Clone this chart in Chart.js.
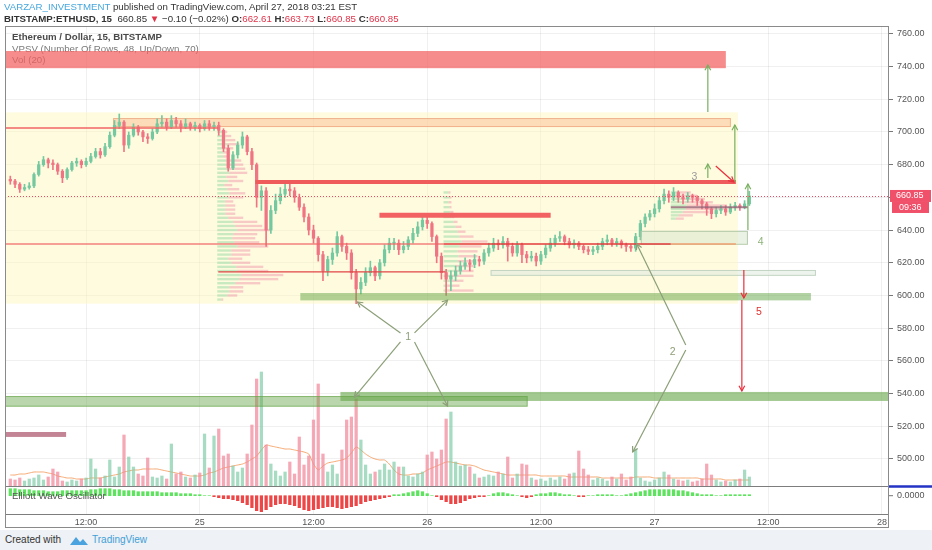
<!DOCTYPE html>
<html>
<head>
<meta charset="utf-8">
<script src="https://cdn.jsdelivr.net/npm/chart.js@4.4.1/dist/chart.umd.min.js"></script>
<style>
  body { margin:0; width:932px; height:550px; overflow:hidden; position:relative; background:#fff;
         font-family:"Liberation Sans", Arial, sans-serif; }
  .hdr { position:absolute; left:4px; white-space:nowrap; font-size:9.7px; color:#333; z-index:3; }
  .red { color:#e0344a; }
  #footer { position:absolute; left:0; top:530px; width:932px; height:20px; background:#eef1f5; z-index:0; }
  #footer span { position:absolute; top:4px; font-size:10px; }
  #wrap { position:absolute; left:0; top:0; width:932px; height:550px; z-index:1; }
</style>
</head>
<body>
<div class="hdr" style="top:1px"><span style="color:#46a6dc">VARZAR_INVESTMENT</span> published on TradingView.com, April 27, 2018 03:21 EST</div>
<div class="hdr" style="top:13px"><b>BITSTAMP:ETHUSD, 15</b>&nbsp; 660.85 <span class="red">&#9660;</span> &minus;0.10 (&minus;0.02%) <b>O:</b><span class="red">662.61</span> <b>H:</b><span class="red">663.73</span> <b>L:</b><span class="red">660.85</span> <b>C:</b><span class="red">660.85</span></div>
<div id="footer">
  <span style="left:5px;color:#333">Created with</span>
  <svg style="position:absolute;left:69px;top:4px" width="20" height="12" viewBox="0 0 20 12">
    <path d="M1 11 L7 3 L11 8 L14 5 L19 11 Z" fill="#4aa3df"/>
  </svg>
  <span style="left:92px;color:#3ea0d8">TradingView</span>
</div>
<div id="wrap"><canvas id="chart"></canvas></div>

<script>
// ETHUSD, 30-minute candles, first candle Apr 24 04:00
const startHour = 4;
const stepHour = 0.5;
const firstOpen = 671;

const closes = [
  670,668,665,666,667,674,680,683,681,680,
  676,672,677,681,682,680,682,685,688,686,
  691,698,704,706,692,698,703,700,697,696,
  700,705,706,703,707,705,703,705,703,704,
  702,705,703,704,701,690,678,686,692,697,
  688,680,660,664,640,652,658,662,665,664,
  660,654,648,640,635,625,615,622,626,636,
  630,626,614,604,608,614,617,612,620,628,
  632,632,628,630,634,638,642,646,644,636,
  624,614,610,612,615,618,620,619,622,621,
  626,629,632,631,633,630,626,631,625,623,
  624,621,625,629,632,635,636,633,631,632,
  630,628,627,628,630,633,634,632,633,631,
  630,629,636,644,648,650,653,658,662,660,
  663,660,659,661,660,658,656,653,650,652,
  653,651,654,655,654,656,660.85
];
const highs = [
  673,671,669,668,669,675,682,685,684,683,
  681,677,678,682,684,683,684,687,690,690,
  693,700,707,711,707,700,705,704,701,699,
  702,708,710,708,710,709,707,708,706,706,
  705,707,707,706,706,702,692,688,694,700,
  698,690,681,667,666,655,662,666,669,668,
  666,662,656,650,643,636,627,624,629,639,
  637,632,628,616,611,617,621,618,622,631,
  635,635,634,633,636,641,645,649,648,645,
  637,626,616,615,618,621,623,622,625,624,
  628,632,635,634,636,635,632,633,632,627,
  627,626,627,631,635,637,639,637,635,634,
  633,631,630,630,632,635,637,635,635,634,
  632,631,638,646,650,652,656,660,665,664,
  666,664,662,663,662,661,659,657,654,654,
  655,655,656,657,656,658,663.73
];
const lows = [
  668,666,663,664,665,666,673,679,678,677,
  674,669,671,676,679,678,679,681,684,684,
  685,690,697,702,688,690,697,698,694,693,
  695,699,703,701,702,703,700,702,701,701,
  700,701,701,701,698,688,676,677,684,690,
  686,677,654,652,630,638,650,656,660,661,
  657,652,645,637,632,621,609,612,619,624,
  627,622,610,595,601,606,612,609,610,618,
  626,628,625,626,628,632,636,640,641,633,
  620,610,600,603,609,613,616,615,617,618,
  619,624,627,628,629,621,624,624,620,620,
  621,618,619,623,627,630,633,631,629,629,
  628,626,625,625,626,628,631,630,630,629,
  627,627,627,634,642,646,648,651,656,657,
  658,657,656,657,657,655,653,649,647,648,
  650,649,650,652,652,653,655
];
const volumes = [
  7,6,8,5,7,8,11,6,9,17,
  14,5,4,6,5,7,8,27,17,8,
  10,26,9,19,51,29,19,12,10,28,
  9,8,10,7,42,12,14,9,8,11,
  13,52,18,50,57,30,32,20,14,18,
  32,61,107,114,41,22,15,10,14,24,
  12,49,21,30,66,102,32,14,21,12,
  36,66,69,87,46,21,12,14,16,22,
  16,24,19,19,10,9,12,14,31,34,
  27,36,67,74,24,20,21,19,12,8,
  9,11,10,14,12,29,8,12,22,21,
  8,6,7,5,8,6,9,7,12,13,
  35,17,11,6,8,7,5,9,7,12,
  6,9,37,8,5,4,6,8,14,11,
  7,6,5,6,4,5,7,22,11,6,
  4,5,4,6,7,16,9
];
const volumeMA = [
  11,11,12,12,13,14,14,14,13,12,
  10,9,8,8,7,7,7,8,8,8,
  9,10,11,12,14,15,16,16,17,17,
  17,17,16,15,14,13,12,11,10,10,
  10,11,13,14,16,18,19,20,21,22,
  24,27,30,36,41,40,39,38,37,37,
  36,35,34,32,22,16,20,23,24,25,
  26,28,33,39,36,32,29,27,26,26,
  22,16,12,11,11,12,12,13,16,18,
  20,22,24,24,23,22,21,21,20,18,
  16,15,14,13,12,11,11,11,11,11,
  11,11,10,10,10,10,10,10,9,9,
  9,9,9,9,9,8,8,8,8,8,
  8,8,9,9,9,9,8,8,8,8,
  8,8,8,8,8,8,7,7,7,7,
  7,6,6,6,6,6,6
];
const oscillator = [
  7,7,6,6,6,5,5,5,4,4,
  4,5,5,5,5,5,5,6,6,7,
  7,7,6,6,5,5,5,4,4,4,
  4,4,3,3,3,3,2,2,2,1,
  1,0,0,-1,-2,-3,-3,-4,-5,-7,
  -9,-12,-15,-16,-14,-11,-9,-8,-8,-9,
  -10,-12,-14,-15,-14,-13,-12,-11,-11,-12,
  -13,-12,-11,-10,-8,-6,-5,-4,-3,-2,
  -1,1,1,2,3,4,5,4,2,0,
  -1,-4,-6,-8,-8,-7,-5,-3,-2,-1,
  -1,0,2,3,3,2,1,0,-1,-2,
  -1,1,2,2,3,3,2,1,1,0,
  -1,-1,0,0,1,1,1,1,0,0,
  1,2,3,4,5,6,6,6,6,6,
  6,5,5,4,3,2,1,1,1,0,
  0,1,1,1,1,1,1
];

// volume profiles (VPSV): anchor hour, row prices, up / down volume
const vp1Anchor = 25.84;
const vp1Price = [700,697.5,695,692.5,690,687.5,685,682.5,680,677.5,675,672.5,670,667.5,665,662.5,660,657.5,655,652.5,650,647.5,645,642.5,640,637.5,635,632.5,630,627.5,625,622.5,620,617.5,615,612.5,610,607.5,605,602.5,600,597.5];
const vp1Up    = [6,8,9,10,8,6,6,10,11,12,12,9,11,7,10,12,11,8,8,8,8,11,16,18,20,16,15,17,20,14,14,11,14,19,20,24,22,18,12,12,10,4];
const vp1Down  = [4,6,9,12,8,6,6,14,15,16,18,11,15,8,12,16,15,8,10,10,10,15,24,27,33,24,23,25,31,19,19,14,19,27,31,42,39,25,14,14,10,2];
const vp2Anchor = 49.72;
const vp2Price = [663,660,657,654,651,648,645,642,639,636,633,630,627,624,621,618,615,612,609,606,603];
const vp2Up    = [5,6,5,6,7,8,10,12,14,16,18,16,14,15,14,12,10,8,6,4,4];
const vp2Down  = [2,2,3,2,3,3,4,6,8,14,26,22,20,19,16,18,20,22,14,12,26];
const vp3Anchor = 73.71;
const vp3Price = [663,661,659,657,655,653,651,649,647];
const vp3Up    = [8,10,12,14,16,15,12,8,5];
const vp3Down  = [12,16,22,28,40,38,26,14,8];

const hourTicks = [12,24,36,48,60,72,84,96];
const priceTicks = [500,520,540,560,580,600,620,640,660,680,700,720,740,760];
const lastPrice = 660.85;
const countdown = '09:36';

// drawings on the chart, in hours / price
const zones = [
  { layer:'back',  t0:3.44,  t1:80.79, p0:595,   p1:712,   fill:'rgba(255,247,185,0.45)' },
  { layer:'back',  t0:14.85, t1:80.05, p0:703,   p1:708.5, fill:'rgba(250,185,140,0.45)', stroke:'rgba(235,160,120,0.7)' },
  { layer:'front', t0:3.44,  t1:79.52, p0:739,   p1:749.5, fill:'rgba(242,95,95,0.72)' },
  { layer:'front', t0:34.61, t1:88.50, p0:597,   p1:601.5, fill:'rgba(100,165,70,0.5)' },
  { layer:'front', t0:38.84, t1:96.74, p0:535.5, p1:541,   fill:'rgba(100,165,70,0.6)' },
  { layer:'front', t0:3.44,  t1:58.60, p0:532,   p1:538.5, fill:'rgba(100,165,70,0.45)', stroke:'rgba(100,165,70,0.6)' },
  { layer:'front', t0:70.54, t1:81.85, p0:631,   p1:639.5, fill:'rgba(215,232,205,0.55)', stroke:'rgba(170,195,160,0.8)' },
  { layer:'front', t0:54.69, t1:89.03, p0:612,   p1:615.6, fill:'rgba(225,235,225,0.6)', stroke:'rgba(185,205,185,0.8)' },
  { layer:'front', t0:3.44,  t1:9.89,  p0:513.5, p1:516.5, fill:'rgba(185,110,130,0.85)' }
];
const levels = [
  { t0:3.44,  t1:25.95, p:702.4, w:1.5, c:'#f06464' },
  { t0:3.44,  t1:49.72, p:631.5, w:1.5, c:'rgba(240,100,100,0.8)' },
  { t0:49.72, t1:73.71, p:631.5, w:1.5, c:'#e33b3b' },
  { t0:73.71, t1:80.58, p:631.5, w:1.5, c:'#f2a070' },
  { t0:25.95, t1:49.93, p:614.4, w:1.3, c:'#e04646' },
  { t0:29.86, t1:80.58, p:669.4, w:4,   c:'#ef5b5b' },
  { t0:42.96, t1:61.03, p:649,   w:5,   c:'#f26262' },
  { t0:73.71, t1:81.85, p:654,   w:2,   c:'rgba(150,100,120,0.8)' }
];
const arrows = [
  { t0:45.18, p0:577.1, t1:40.63, p1:596.0, c:'#8c9f78' },
  { t0:46.66, p0:577.1, t1:50.15, p1:597.2, c:'#8c9f78' },
  { t0:45.18, p0:571.6, t1:40.32, p1:537.9, c:'#8c9f78' },
  { t0:46.66, p0:571.6, t1:50.15, p1:532.4, c:'#8c9f78' },
  { t0:75.29, p0:569.7, t1:70.12, p1:631.5, c:'#8c9f78' },
  { t0:75.29, p0:566.7, t1:69.69, p1:504.3, c:'#8c9f78' },
  { t0:77.62, p0:712.2, t1:77.62, p1:741,   c:'#78b060' },
  { t0:80.47, p0:669.4, t1:80.47, p1:704.3, c:'#78b060' },
  { t0:77.62, p0:671.9, t1:77.62, p1:680.4, c:'#78b060' },
  { t0:81.85, p0:640,   t1:81.85, p1:668.2, c:'#78b060' },
  { t0:78.46, p0:679.2, t1:80.36, p1:669.4, c:'#e8303c' },
  { t0:81.42, p0:615.6, t1:81.42, p1:598.5, c:'#e8303c' },
  { t0:81.21, p0:597.2, t1:81.21, p1:541.6, c:'#e8303c' }
];
const marks = [
  { t:46.0, p:574.6, text:'1', c:'#8c9f78' },
  { t:73.9, p:565.4, text:'2', c:'#8c9f78' },
  { t:76.2, p:672.5, text:'3', c:'#9a9a9a' },
  { t:83.2, p:632.7, text:'4', c:'#8fb27a' },
  { t:83.0, p:590,   text:'5', c:'#e03030' }
];

const hours = closes.map((c, i) => startHour + i * stepHour);
const opens = closes.map((c, i) => i ? closes[i - 1] : firstOpen);
const isUp = closes.map((c, i) => c >= opens[i]);

const upC = '#74c9a0', downC = '#f07584';
const FONT = '"Liberation Sans", Arial, sans-serif';

function drawProfile(ctx, xs, ys, anchor, prices, ups, downs) {
  const k = 1 / 9.464;
  prices.forEach((p, i) => {
    const y = ys.getPixelForValue(p);
    const x0 = xs.getPixelForValue(anchor);
    const x1 = xs.getPixelForValue(anchor + ups[i] * k);
    const x2 = xs.getPixelForValue(anchor + (ups[i] + downs[i]) * k);
    ctx.fillStyle = 'rgba(120,210,150,0.4)';
    ctx.fillRect(x0, y - 1.2, x1 - x0, 2.4);
    ctx.fillStyle = 'rgba(238,130,160,0.4)';
    ctx.fillRect(x1, y - 1.2, x2 - x1, 2.4);
  });
}

function drawZone(ctx, xs, ys, z) {
  const x0 = xs.getPixelForValue(z.t0), x1 = xs.getPixelForValue(z.t1);
  const y0 = ys.getPixelForValue(z.p1), y1 = ys.getPixelForValue(z.p0);
  ctx.fillStyle = z.fill;
  ctx.fillRect(x0, y0, x1 - x0, y1 - y0);
  if (z.stroke) {
    ctx.strokeStyle = z.stroke; ctx.lineWidth = 1;
    ctx.strokeRect(x0 + 0.5, y0 + 0.5, x1 - x0 - 1, y1 - y0 - 1);
  }
}

const tvDraw = {
  id: 'tvDraw',
  beforeDatasetsDraw(chart) {
    const { ctx, chartArea: a, scales: { x, y } } = chart;
    ctx.save();
    ctx.beginPath(); ctx.rect(a.left, a.top, a.right - a.left, a.bottom - a.top); ctx.clip();
    zones.filter(z => z.layer === 'back').forEach(z => drawZone(ctx, x, y, z));
    drawProfile(ctx, x, y, vp1Anchor, vp1Price, vp1Up, vp1Down);
    drawProfile(ctx, x, y, vp2Anchor, vp2Price, vp2Up, vp2Down);
    drawProfile(ctx, x, y, vp3Anchor, vp3Price, vp3Up, vp3Down);
    ctx.restore();
  },
  afterDatasetsDraw(chart) {
    const { ctx, chartArea: a, scales: { x, y, yv, yo } } = chart;
    ctx.save();
    // legend
    ctx.textBaseline = 'middle'; ctx.textAlign = 'left';
    ctx.font = 'bold 9.7px ' + FONT;
    ctx.fillStyle = '#4a4a4a';
    ctx.fillText('Ethereum / Dollar, 15, BITSTAMP', a.left + 7, a.top + 11);
    ctx.font = '9.7px ' + FONT;
    ctx.fillStyle = '#7a7a7a';
    ctx.fillText('VPSV (Number Of Rows, 48, Up/Down, 70)', a.left + 7, a.top + 23);
    ctx.fillText('Vol (20)', a.left + 7, a.top + 34);

    ctx.save();
    ctx.beginPath(); ctx.rect(a.left, a.top, a.right - a.left, a.bottom - a.top); ctx.clip();
    zones.filter(z => z.layer === 'front').forEach(z => drawZone(ctx, x, y, z));
    levels.forEach(l => {
      ctx.strokeStyle = l.c; ctx.lineWidth = l.w;
      const yy = y.getPixelForValue(l.p);
      ctx.beginPath(); ctx.moveTo(x.getPixelForValue(l.t0), yy); ctx.lineTo(x.getPixelForValue(l.t1), yy); ctx.stroke();
    });
    // last price dotted line
    const yl = Math.round(y.getPixelForValue(lastPrice)) + 0.5;
    ctx.strokeStyle = '#ef4a62'; ctx.lineWidth = 1; ctx.setLineDash([1, 2]);
    ctx.beginPath(); ctx.moveTo(a.left, yl); ctx.lineTo(a.right, yl); ctx.stroke();
    ctx.setLineDash([]);
    arrows.forEach(r => {
      const x0 = x.getPixelForValue(r.t0), y0 = y.getPixelForValue(r.p0);
      const x1 = x.getPixelForValue(r.t1), y1 = y.getPixelForValue(r.p1);
      ctx.strokeStyle = r.c; ctx.lineWidth = 1.2;
      ctx.beginPath(); ctx.moveTo(x0, y0); ctx.lineTo(x1, y1); ctx.stroke();
      const ang = Math.atan2(y1 - y0, x1 - x0);
      ctx.beginPath();
      ctx.moveTo(x1 - 6 * Math.cos(ang - 0.5), y1 - 6 * Math.sin(ang - 0.5));
      ctx.lineTo(x1, y1);
      ctx.lineTo(x1 - 6 * Math.cos(ang + 0.5), y1 - 6 * Math.sin(ang + 0.5));
      ctx.stroke();
    });
    ctx.font = '10.5px ' + FONT;
    ctx.textAlign = 'center';
    marks.forEach(m => {
      ctx.fillStyle = m.c;
      ctx.fillText(m.text, x.getPixelForValue(m.t), y.getPixelForValue(m.p));
    });
    ctx.restore();

    // panes and frame
    const ySplit = Math.round(yv.getPixelForValue(0)) + 0.5;
    ctx.strokeStyle = '#7d7d7d'; ctx.lineWidth = 1;
    ctx.beginPath(); ctx.moveTo(a.left, ySplit); ctx.lineTo(a.right, ySplit); ctx.stroke();
    ctx.beginPath(); ctx.moveTo(a.left, a.bottom + 0.5); ctx.lineTo(a.right, a.bottom + 0.5); ctx.stroke();
    ctx.strokeStyle = '#8a8a8a';
    ctx.strokeRect(a.left + 0.5, a.top + 0.5, a.right - a.left - 1, a.bottom - a.top + 13);
    ctx.strokeStyle = '#2333c4'; ctx.lineWidth = 2.5;
    ctx.beginPath(); ctx.moveTo(a.right, ySplit); ctx.lineTo(chart.width, ySplit); ctx.stroke();

    // oscillator title and zero label
    const y0 = yo.getPixelForValue(0);
    ctx.font = '9.7px ' + FONT;
    ctx.textAlign = 'left'; ctx.fillStyle = '#555';
    ctx.fillText('Elliott Wave Oscillator', a.left + 7, y0 + 1);
    ctx.font = '9px ' + FONT;
    ctx.fillText('0.0000', a.right + 8, y0);
    ctx.strokeStyle = '#777'; ctx.lineWidth = 1;
    ctx.beginPath(); ctx.moveTo(a.right, y0); ctx.lineTo(a.right + 4, y0); ctx.stroke();

    // price and countdown tags
    const yp = y.getPixelForValue(lastPrice);
    ctx.fillStyle = '#f0506a';
    ctx.fillRect(a.right + 1, yp - 6, 41, 12);
    ctx.fillRect(a.right + 3, yp + 6, 37, 11);
    ctx.fillStyle = '#fff';
    ctx.fillText(lastPrice.toFixed(2), a.right + 7, yp);
    ctx.fillText(countdown, a.right + 10, yp + 11.5);
    ctx.restore();
  }
};

new Chart(document.getElementById('chart'), {
  type: 'bar',
  data: {
    datasets: [
      { label: 'Wick', yAxisID: 'y', grouped: false, barThickness: 1,
        data: hours.map((t, i) => ({ x: t, y: [lows[i], highs[i]] })),
        backgroundColor: isUp.map(u => u ? upC : downC) },
      { label: 'Body', yAxisID: 'y', grouped: false, barThickness: 2.6,
        data: hours.map((t, i) => ({ x: t, y: [opens[i], closes[i]] })),
        backgroundColor: isUp.map(u => u ? upC : downC), minBarLength: 1 },
      { label: 'Volume', yAxisID: 'yv', grouped: false, barThickness: 2.6,
        data: hours.map((t, i) => ({ x: t, y: volumes[i] })),
        backgroundColor: isUp.map(u => u ? 'rgba(130,205,170,0.7)' : 'rgba(242,140,158,0.75)') },
      { label: 'Vol MA', type: 'line', yAxisID: 'yv',
        data: hours.map((t, i) => ({ x: t, y: volumeMA[i] })),
        borderColor: 'rgba(244,160,100,0.9)', borderWidth: 1, pointRadius: 0, tension: 0.2 },
      { label: 'EWO', yAxisID: 'yo', grouped: false, barThickness: 2.6,
        data: hours.map((t, i) => ({ x: t, y: oscillator[i] })),
        backgroundColor: oscillator.map(v => v >= 0 ? '#5de35d' : '#ee4646') }
    ]
  },
  options: {
    responsive: true, maintainAspectRatio: false, animation: false,
    layout: { padding: { left: 5, top: 26, right: 0, bottom: 20 } },
    plugins: { legend: { display: false }, tooltip: { enabled: false } },
    scales: {
      x: {
        type: 'linear', min: 3.44, max: 96.74, offset: false,
        afterBuildTicks: s => { s.ticks = hourTicks.map(v => ({ value: v })); },
        afterFit: s => { s.height = 16; },
        ticks: { autoSkip: false, maxRotation: 0, padding: 3, color: '#555',
                 font: { size: 9, family: FONT },
                 callback: v => v % 24 === 0 ? String(24 + v / 24) : '12:00' },
        grid: { color: 'rgba(0,0,0,0.06)', drawTicks: false, offset: false },
        border: { display: false }
      },
      y: {
        position: 'right', min: 466.36, max: 764.8,
        afterBuildTicks: s => { s.ticks = priceTicks.map(v => ({ value: v })); },
        afterFit: s => { s.width = 43; },
        ticks: { padding: 4, color: '#555',
                 font: { size: 9, family: FONT },
                 callback: v => v.toFixed(2) },
        grid: { color: 'rgba(0,0,0,0.06)', tickLength: 4, tickColor: '#777' },
        border: { display: false }
      },
      yv: { display: false, min: -28, max: 460 },
      yo: { display: false, min: -18.3, max: 469.7 }
    }
  },
  plugins: [tvDraw]
});
</script>
</body>
</html>
